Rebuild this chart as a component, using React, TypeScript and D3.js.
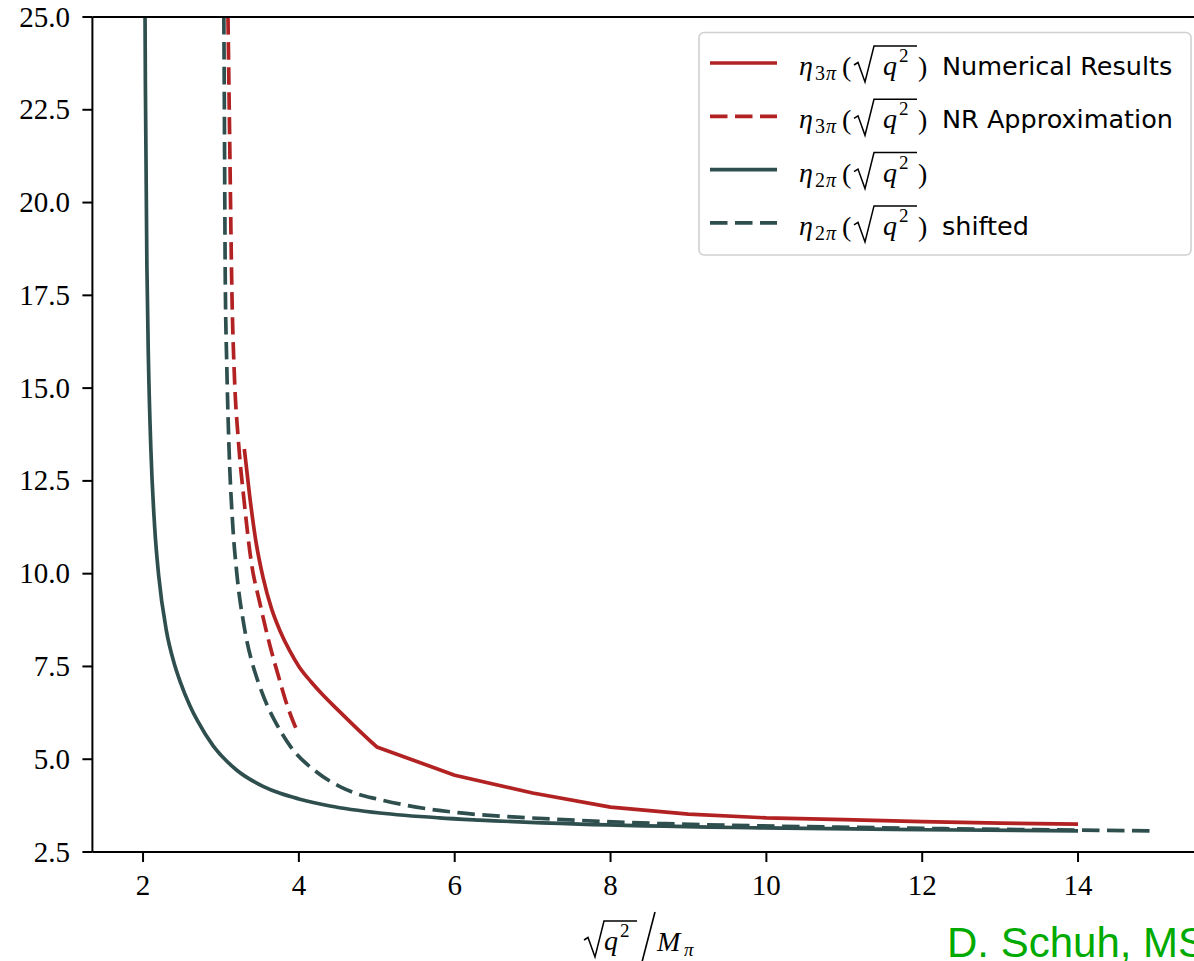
import React from "react";
import * as d3 from "d3";

// ---- data ----
const eta2piX = [2.0256, 2.03, 2.05, 2.07, 2.1, 2.15, 2.2, 2.3, 2.4, 2.475, 2.6, 2.7, 2.9, 3.2, 3.54, 3.76, 4.0, 4.4, 5.04, 5.8, 6.32, 7.6, 9.92, 12.0, 14.0];
const eta2piY = [25.0, 23.18, 18.22, 15.67, 13.38, 11.23, 9.96, 8.46, 7.58, 7.1, 6.45, 6.03, 5.36, 4.71, 4.27, 4.08, 3.93, 3.74, 3.55, 3.42, 3.36, 3.25, 3.15, 3.1, 3.07];

const eta2piShiftX = [3.037, 3.042, 3.055, 3.075, 3.1, 3.15, 3.2, 3.3, 3.4, 3.475, 3.6, 3.7, 3.9, 4.2, 4.54, 4.76, 5.0, 5.4, 6.04, 6.8, 7.32, 8.6, 10.92, 13.0, 15.0];
const eta2piShiftY = [25.0, 23.2, 18.0, 15.6, 13.6, 11.35, 10.08, 8.55, 7.6, 7.1, 6.42, 6.0, 5.32, 4.7, 4.25, 4.06, 3.93, 3.75, 3.56, 3.44, 3.38, 3.27, 3.17, 3.11, 3.07];

const eta3piNumX = [3.3, 3.37, 3.45, 3.54, 3.65, 3.76, 3.88, 4.0, 4.15, 4.3, 4.5, 4.75, 5.0, 6.0, 7.0, 8.0, 9.0, 10.0, 11.0, 12.0, 13.0, 14.0];
const eta3piNumY = [13.36, 12.07, 10.85, 9.9, 9.05, 8.45, 7.93, 7.5, 7.1, 6.75, 6.33, 5.82, 5.33, 4.57, 4.09, 3.71, 3.52, 3.42, 3.37, 3.32, 3.28, 3.25];

const eta3piNRX = [3.09, 3.11, 3.14, 3.175, 3.22, 3.3, 3.39, 3.5, 3.63, 3.75, 3.85, 3.92, 3.99];
const eta3piNRY = [25.0, 22.0, 17.64, 15.2, 13.68, 11.9, 10.3, 9.2, 8.05, 7.15, 6.45, 6.05, 5.71];

const xTicks = [2, 4, 6, 8, 10, 12, 14];
const yTicks = [2.5, 5.0, 7.5, 10.0, 12.5, 15.0, 17.5, 20.0, 22.5, 25.0];

const legendSubs = ["3π", "3π", "2π", "2π"];
const legendTexts = ["Numerical Results", "NR Approximation", "", "shifted"];

const RED = "#b22222";
const GRAY = "#2f4f4f";

// smoothUntil: points up to this x are joined smoothly, the rest by straight segments
const seriesDefs = [
  { xs: eta3piNumX, ys: eta3piNumY, color: RED, dashed: false, smoothUntil: 5.0 },
  { xs: eta3piNRX, ys: eta3piNRY, color: RED, dashed: true, smoothUntil: Infinity },
  { xs: eta2piX, ys: eta2piY, color: GRAY, dashed: false, smoothUntil: Infinity },
  { xs: eta2piShiftX, ys: eta2piShiftY, color: GRAY, dashed: true, smoothUntil: Infinity },
];
const drawOrder = [2, 3, 0, 1];

const W = 1194;
const H = 961;
const left = 92.4;
const right = 1206.6;
const top = 17;
const bottom = 852;
const LW = 3.7;
const DASH = "17.5 7.5";

const SERIF = "'Liberation Serif', 'DejaVu Serif', serif";
const SANS = "'DejaVu Sans', sans-serif";

function Radical({ x, b, len }: { x: number; b: number; len: number }) {
  const d = `M${x},${b - 10} L${x + 4},${b - 12.5} L${x + 11},${b + 7} L${x + 20},${b - 29} L${x + len},${b - 29}`;
  return <path d={d} fill="none" stroke="#000" strokeWidth={1.5} strokeLinejoin="miter" />;
}

export default function App() {
  const x = d3.scaleLinear().domain([1.35, 15.65]).range([left, right]);
  const y = d3.scaleLinear().domain([2.5, 25]).range([bottom, top]);
  const smoothLine = d3
    .line<[number, number]>()
    .x((d) => x(d[0]))
    .y((d) => y(d[1]))
    .curve(d3.curveMonotoneX);
  const straightLine = d3
    .line<[number, number]>()
    .x((d) => x(d[0]))
    .y((d) => y(d[1]))
    .curve(d3.curveLinear);

  const pathFor = (s: (typeof seriesDefs)[number]) => {
    const pts = s.xs.map((v, k) => [v, s.ys[k]] as [number, number]);
    const a = pts.filter((p) => p[0] <= s.smoothUntil);
    const b = pts.filter((p) => p[0] >= s.smoothUntil);
    let d = smoothLine(a) || "";
    if (b.length > 1) {
      d += (straightLine(b) || "").replace(/^M/, "L");
    }
    return d;
  };

  const fmt = d3.format(".1f");

  return (
    <svg
      width={W}
      height={H}
      style={{ position: "absolute", left: 0, top: 0, background: "#fff" }}
      viewBox={`0 0 ${W} ${H}`}
    >
      <defs>
        <clipPath id="plot">
          <rect x={left} y={top} width={right - left} height={bottom - top} />
        </clipPath>
      </defs>
      <rect x={0} y={0} width={W} height={H} fill="#fff" />

      <g clipPath="url(#plot)">
        {drawOrder.map((i) => {
          const s = seriesDefs[i];
          return (
            <path
              key={i}
              d={pathFor(s)}
              fill="none"
              stroke={s.color}
              strokeWidth={LW}
              strokeDasharray={s.dashed ? DASH : undefined}
              strokeLinecap="butt"
              strokeLinejoin="round"
            />
          );
        })}
      </g>

      {/* spines */}
      <line x1={left} x2={left} y1={top} y2={bottom} stroke="#000" strokeWidth={2} />
      <line x1={left} x2={W} y1={bottom} y2={bottom} stroke="#000" strokeWidth={2} />
      <line x1={left} x2={W} y1={top} y2={top} stroke="#000" strokeWidth={2} />

      {/* x ticks */}
      {xTicks.map((t) => (
        <g key={"x" + t}>
          <line x1={x(t)} x2={x(t)} y1={bottom} y2={bottom + 10} stroke="#000" strokeWidth={2} />
          <text x={x(t)} y={895} textAnchor="middle" fontFamily={SERIF} fontSize={29}>
            {t}
          </text>
        </g>
      ))}
      {/* y ticks */}
      {yTicks.map((t) => (
        <g key={"y" + t}>
          <line x1={left - 10} x2={left} y1={y(t)} y2={y(t)} stroke="#000" strokeWidth={2} />
          <text x={70} y={y(t) + 9.5} textAnchor="end" fontFamily={SERIF} fontSize={29}>
            {fmt(t)}
          </text>
        </g>
      ))}

      {/* x axis label */}
      <Radical x={584} b={950} len={53} />
      <text x={604} y={950} fontFamily={SERIF} fontStyle="italic" fontSize={28}>q</text>
      <text x={620} y={937} fontFamily={SERIF} fontSize={19}>2</text>
      <line x1={655} y1={912} x2={642} y2={962} stroke="#000" strokeWidth={1.6} />
      <text x={657} y={951} fontFamily={SERIF} fontStyle="italic" fontSize={28}>M</text>
      <text x={684} y={956} fontFamily={SERIF} fontStyle="italic" fontSize={19}>π</text>

      {/* legend */}
      <rect
        x={699}
        y={32.5}
        width={492}
        height={222.5}
        rx={5}
        ry={5}
        fill="#fff"
        fillOpacity={0.8}
        stroke="#d0d0d0"
        strokeWidth={1.6}
      />
      {seriesDefs.map((s, i) => {
        const ly = 63 + i * 53.3;
        const b = ly + 12;
        return (
          <g key={"leg" + i}>
            <line
              x1={710}
              x2={777}
              y1={ly}
              y2={ly}
              stroke={s.color}
              strokeWidth={LW}
              strokeDasharray={s.dashed ? DASH : undefined}
            />
            <text x={799} y={b} fontFamily={SERIF} fontStyle="italic" fontSize={28}>η</text>
            <text x={815} y={b + 5} fontFamily={SERIF} fontSize={20}>{legendSubs[i][0]}</text>
            <text x={826} y={b + 5} fontFamily={SERIF} fontStyle="italic" fontSize={20}>{legendSubs[i].slice(1)}</text>
            <text x={842} y={b + 1} fontFamily={SERIF} fontSize={28}>(</text>
            <Radical x={854} b={b} len={63} />
            <text x={883} y={b} fontFamily={SERIF} fontStyle="italic" fontSize={28}>q</text>
            <text x={899} y={b - 13} fontFamily={SERIF} fontSize={19}>2</text>
            <text x={918} y={b + 1} fontFamily={SERIF} fontSize={28}>)</text>
            {legendTexts[i] && (
              <text x={942} y={b} fontFamily={SANS} fontSize={25.5}>
                {legendTexts[i]}
              </text>
            )}
          </g>
        );
      })}

      {/* watermark (cut at the right edge, as in the reference) */}
      <text x={947} y={957} fontFamily="'Liberation Sans', Arial, sans-serif" fontSize={42} fill="#00aa00">
        D. Schuh, MS
      </text>
    </svg>
  );
}
